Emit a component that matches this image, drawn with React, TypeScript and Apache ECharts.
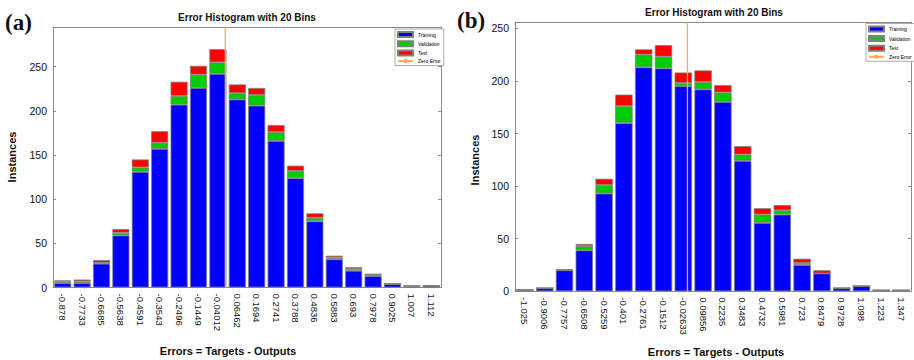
import React, { useEffect, useRef } from "react";
import * as echarts from "echarts";

// ---------- data ----------
const leftBins = ["-0.878", "-0.7733", "-0.6685", "-0.5638", "-0.4591", "-0.3543", "-0.2496", "-0.1449", "-0.04012", "0.06462", "0.1694", "0.2741", "0.3788", "0.4836", "0.5883", "0.693", "0.7978", "0.9025", "1.007", "1.112"];
const leftTraining = [5, 5, 27, 59, 131, 157, 207, 226, 242, 213, 206, 166, 124, 75, 32, 19, 13, 4, 1, 2];
const leftValidation = [2, 2, 1, 3, 5, 7, 10, 15, 13, 7, 12, 10, 8, 4, 2, 2, 2, 0, 1, 0];
const leftTest = [1, 2, 3, 4, 9, 13, 16, 10, 15, 10, 8, 8, 6, 5, 2, 2, 0, 0, 0, 0];

const rightBins = ["-1.025", "-0.9006", "-0.7757", "-0.6508", "-0.5259", "-0.401", "-0.2761", "-0.1512", "-0.02633", "0.09856", "0.2235", "0.3483", "0.4732", "0.5981", "0.723", "0.8479", "0.9728", "1.098", "1.223", "1.347"];
const rightTraining = [1, 3, 20, 39, 93, 160, 213, 212, 195, 192, 180, 124, 65, 73, 25, 17, 3, 5, 1, 1];
const rightValidation = [0, 0, 0, 4, 8, 16, 12, 11, 3, 7, 9, 6, 8, 4, 2, 0, 0, 0, 0, 0];
const rightTest = [1, 0, 1, 2, 6, 11, 5, 11, 10, 11, 7, 8, 6, 5, 4, 3, 0, 0, 0, 0];

const yTicks = [0, 50, 100, 150, 200, 250];
const leftYMax = 295;
const rightYMax = 256;
const zeroError = 0;

const TITLE = "Error Histogram with 20 Bins";
const XNAME = "Errors = Targets - Outputs";
const YNAME = "Instances";

const BLUE = "#0000ff";
const GREEN = "#00cc00";
const RED = "#ff0000";
const ORANGE = "#ffa850";
const BOX = "#8a8a8a";
const FONT = "'Liberation Sans', Arial, sans-serif";

function edges(bins: string[]) {
  const c = bins.map(Number);
  const w = (c[c.length - 1] - c[0]) / (c.length - 1);
  return [c[0] - w / 2, c[c.length - 1] + w / 2];
}

function buildPanel(gi: number, bins: string[], yMax: number) {
  const [xmin, xmax] = edges(bins);
  const catBase = {
    type: "category" as const,
    gridIndex: gi,
    data: bins,
    boundaryGap: true,
    axisLine: { show: true, onZero: false, lineStyle: { color: BOX, width: 1 } },
    axisTick: { inside: true, alignWithLabel: true, length: 3, lineStyle: { color: BOX } },
    splitLine: { show: false },
  };
  const xAxes = [
    {
      ...catBase,
      position: "bottom",
      axisLabel: { rotate: -90, fontSize: 9.5, margin: 6, color: "#111", fontFamily: FONT, interval: 0 },
    },
    { ...catBase, position: "top", axisLabel: { show: false } },
    {
      type: "value" as const,
      gridIndex: gi,
      position: "bottom",
      min: xmin,
      max: xmax,
      show: false,
      axisLine: { onZero: false },
    },
  ];
  const valBase = {
    type: "value" as const,
    gridIndex: gi,
    min: 0,
    max: yMax,
    interval: 50,
    splitLine: { show: false },
    axisLine: { show: true, onZero: false, lineStyle: { color: BOX, width: 1 } },
    axisTick: { show: true, inside: true, length: 3, lineStyle: { color: BOX } },
  };
  const yAxes = [
    {
      ...valBase,
      position: "left",
      axisLabel: {
        fontSize: 10.5,
        color: "#111",
        fontFamily: FONT,
        margin: 6,
        formatter: (v: number) => (yTicks.includes(v) ? String(v) : ""),
      },
    },
    { ...valBase, position: "right", axisLabel: { show: false } },
  ];
  return { xAxes, yAxes };
}

export default function App() {
  const ref = useRef<HTMLDivElement>(null);
  useEffect(() => {
    if (!ref.current) return;
    const chart = echarts.init(ref.current, undefined, { renderer: "svg" });
    const L = buildPanel(0, leftBins, leftYMax);
    const R = buildPanel(1, rightBins, rightYMax);

    const barStyle = (color: string) => ({ color, borderColor: "#808080", borderWidth: 0.8 });
    const bars = (xi: number, yi: number, stack: string, tr: number[], va: number[], te: number[]) => [
      { name: "Training", type: "bar", xAxisIndex: xi, yAxisIndex: yi, stack, data: tr, barWidth: "88%", itemStyle: barStyle(BLUE) },
      { name: "Validation", type: "bar", xAxisIndex: xi, yAxisIndex: yi, stack, data: va, barWidth: "88%", itemStyle: barStyle(GREEN) },
      { name: "Test", type: "bar", xAxisIndex: xi, yAxisIndex: yi, stack, data: te, barWidth: "88%", itemStyle: barStyle(RED) },
    ];
    const zeroLine = (xi: number, yi: number, yMax: number) => ({
      name: "Zero Error",
      type: "line",
      xAxisIndex: xi,
      yAxisIndex: yi,
      data: [
        [zeroError, 0],
        [zeroError, yMax],
      ],
      symbol: "none",
      showSymbol: false,
      z: 5,
      lineStyle: { color: ORANGE, width: 1.3 },
      itemStyle: { color: ORANGE },
    });

    const legendData = [
      { name: "Training", icon: "rect" },
      { name: "Validation", icon: "rect" },
      { name: "Test", icon: "rect" },
      { name: "Zero Error" },
    ];
    const legendBase = {
      orient: "vertical",
      itemWidth: 15,
      itemHeight: 5,
      itemGap: 2.2,
      padding: [2, 3, 2, 2],
      borderColor: "#999",
      borderWidth: 0.8,
      backgroundColor: "#fff",
      selectedMode: false,
      textStyle: { fontSize: 5, lineHeight: 5, color: "#000", fontFamily: FONT },
      data: legendData,
    };

    chart.setOption({
      animation: false,
      backgroundColor: "#fff",
      grid: [
        { left: 53, top: 27, width: 388, height: 260.5 },
        { left: 515, top: 22, width: 396, height: 269.3 },
      ],
      xAxis: [...L.xAxes, ...R.xAxes],
      yAxis: [...L.yAxes, ...R.yAxes],
      legend: [
        { ...legendBase, left: 395, top: 29 },
        { ...legendBase, left: 866, top: 23.5, itemGap: 2.6 },
      ],
      series: [
        ...bars(0, 0, "L", leftTraining, leftValidation, leftTest),
        zeroLine(2, 0, leftYMax),
        ...bars(3, 2, "R", rightTraining, rightValidation, rightTest),
        zeroLine(5, 2, rightYMax),
      ],
      graphic: [
        { type: "text", x: 247, y: 17, style: { text: TITLE, align: "center", verticalAlign: "middle", fontSize: 10, fontWeight: "bold", fontFamily: FONT, fill: "#111" } },
        { type: "text", x: 714, y: 12, style: { text: TITLE, align: "center", verticalAlign: "middle", fontSize: 10, fontWeight: "bold", fontFamily: FONT, fill: "#111" } },
        { type: "text", x: 228, y: 351, style: { text: XNAME, align: "center", verticalAlign: "middle", fontSize: 11, fontWeight: "bold", fontFamily: FONT, fill: "#111" } },
        { type: "text", x: 716, y: 352, style: { text: XNAME, align: "center", verticalAlign: "middle", fontSize: 11, fontWeight: "bold", fontFamily: FONT, fill: "#111" } },
        { type: "text", x: 12, y: 157, rotation: Math.PI / 2, style: { text: YNAME, align: "center", verticalAlign: "middle", fontSize: 11, fontWeight: "bold", fontFamily: FONT, fill: "#111" } },
        { type: "text", x: 475, y: 160, rotation: Math.PI / 2, style: { text: YNAME, align: "center", verticalAlign: "middle", fontSize: 11, fontWeight: "bold", fontFamily: FONT, fill: "#111" } },
        { type: "text", x: 5, y: 22, style: { text: "(a)", align: "left", verticalAlign: "middle", fontSize: 23, fontWeight: "bold", fontFamily: "'Liberation Serif', 'Times New Roman', serif", fill: "#111" } },
        { type: "text", x: 457, y: 20, style: { text: "(b)", align: "left", verticalAlign: "middle", fontSize: 23, fontWeight: "bold", fontFamily: "'Liberation Serif', 'Times New Roman', serif", fill: "#111" } },
      ],
    });
    return () => chart.dispose();
  }, []);
  return (
    <div
      ref={ref}
      style={{ position: "absolute", left: 0, top: 0, width: 914, height: 360 }}
    />
  );
}
